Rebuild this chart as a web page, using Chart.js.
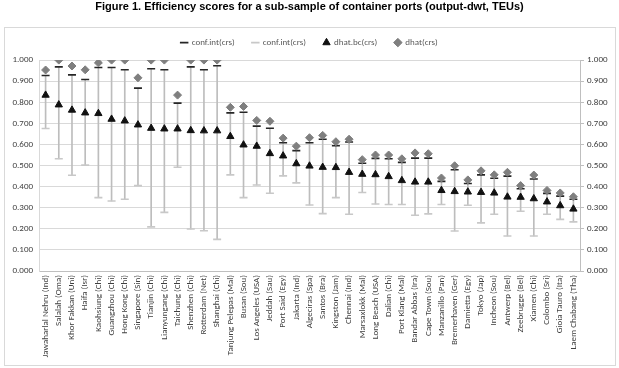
<!DOCTYPE html>
<html>
<head>
<meta charset="utf-8">
<script src="https://cdn.jsdelivr.net/npm/chart.js@4/dist/chart.umd.min.js"></script>
<style>
  html, body { margin: 0; padding: 0; background: #fff; }
  #wrap { width: 619px; height: 368px; }
</style>
</head>
<body>
<div id="wrap"><canvas id="grafico" width="619" height="368"></canvas></div>
<script>
var puertos = ['Jawaharlal Nehru (Ind)', 'Salalah (Oma)', 'Khor Fakkan (Uni)', 'Haifa (Isr)', 'Kaohsiung (Chi)',
    'Guangzhou (Chi)', 'Hong Kong (Chi)', 'Singapore (Sin)', 'Tianjin (Chi)', 'Lianyungang (Chi)', 'Taichung (Chi)',
    'Shenzhen (Chi)', 'Rotterdam (Net)', 'Shanghai (Chi)', 'Tanjung Pelepas (Mal)', 'Busan (Sou)', 'Los Angeles (USA)',
    'Jeddah (Sau)', 'Port Said (Egy)', 'Jakarta (Ind)', 'Algeciras (Spa)', 'Santos (Bra)', 'Kingston (Jam)',
    'Chennai (Ind)', 'Marsaxlokk (Mal)', 'Long Beach (USA)', 'Dalian (Chi)', 'Port Klang (Mal)', 'Bandar Abbas (Ira)',
    'Cape Town (Sou)', 'Manzanillo (Pan)', 'Bremerhaven (Ger)', 'Damietta (Egy)', 'Tokyo (Jap)', 'Incheon (Sou)',
    'Antwerp (Bel)', 'Zeebrugge (Bel)', 'Xiamen (Chi)', 'Colombo (Sri)', 'Gioia Tauro (Ita)', 'Laem Chabang (Tha)'];

var dhat = [0.953, 1.000, 0.972, 0.954, 0.987, 1.000, 1.000, 0.916, 1.000, 1.000, 0.834, 1.000, 1.000, 1.000,
    0.776, 0.780, 0.714, 0.710, 0.630, 0.592, 0.632, 0.643, 0.613, 0.625, 0.528, 0.550, 0.550, 0.532, 0.560,
    0.556, 0.441, 0.499, 0.432, 0.475, 0.456, 0.468, 0.405, 0.455, 0.382, 0.370, 0.352];

var dhatBc = [0.834, 0.788, 0.763, 0.750, 0.747, 0.720, 0.712, 0.693, 0.677, 0.674, 0.674, 0.666, 0.665, 0.665,
    0.638, 0.598, 0.592, 0.557, 0.546, 0.509, 0.498, 0.492, 0.491, 0.468, 0.459, 0.457, 0.448, 0.429, 0.422,
    0.422, 0.382, 0.377, 0.375, 0.373, 0.370, 0.351, 0.350, 0.343, 0.328, 0.310, 0.294];

var ciSuperior = [0.927, 0.968, 0.930, 0.908, 0.965, 0.965, 0.954, 0.867, 0.959, 0.954, 0.796, 0.968, 0.954, 0.973,
    0.750, 0.753, 0.687, 0.677, 0.608, 0.571, 0.608, 0.625, 0.594, 0.612, 0.511, 0.534, 0.532, 0.515, 0.535,
    0.535, 0.425, 0.480, 0.415, 0.456, 0.440, 0.450, 0.390, 0.436, 0.368, 0.355, 0.340];

var ciInferior = [0.676, 0.532, 0.454, 0.502, 0.348, 0.332, 0.340, 0.405, 0.209, 0.278, 0.492, 0.199, 0.191, 0.150,
    0.456, 0.348, 0.408, 0.369, 0.451, 0.418, 0.313, 0.272, 0.348, 0.269, 0.372, 0.318, 0.315, 0.315, 0.264,
    0.271, 0.315, 0.190, 0.312, 0.228, 0.269, 0.166, 0.283, 0.166, 0.269, 0.245, 0.233];

var ticksY = [0, 0.1, 0.2, 0.3, 0.4, 0.5, 0.6, 0.7, 0.8, 0.9, 1.0];

// barras verticales entre los limites del intervalo
var rangos = puertos.map(function (p, i) { return [ciInferior[i], ciSuperior[i]]; });

var fuenteEje = 'Calibri, Carlito, "Liberation Sans Narrow", "Liberation Sans", Arial, sans-serif';

// marco gris alrededor del area del grafico (estilo Excel)
var marco = {
    id: 'marco',
    beforeLayout: function (chart) {
        // un poco mas de aire debajo de la leyenda
        var lg = chart.legend;
        if (lg && !lg._extra) {
            var fitOriginal = lg.fit;
            lg.fit = function () { fitOriginal.call(this); this.height += 3; };
            lg._extra = true;
        }
    },
    beforeDraw: function (chart) {
        var ctx = chart.ctx;
        ctx.save();
        ctx.fillStyle = '#ffffff';
        ctx.fillRect(0, 0, chart.width, chart.height);
        ctx.strokeStyle = '#d9d9d9';
        ctx.lineWidth = 1;
        ctx.strokeRect(4.5, 27.5, 611, 338);
        ctx.restore();
    }
};

var ctx = document.getElementById('grafico').getContext('2d');
var grafico = new Chart(ctx, {
    data: {
        labels: puertos,
        datasets: [
            {
                type: 'line', label: 'conf.int(crs)', data: ciSuperior, showLine: false,
                pointStyle: 'line', pointRadius: 4, borderColor: '#262626', backgroundColor: '#262626',
                pointBorderWidth: 1.6, order: 3
            },
            {
                type: 'line', label: 'conf.int(crs)', data: ciInferior, showLine: false,
                pointStyle: 'line', pointRadius: 4, borderColor: '#c8c8c8', backgroundColor: '#c8c8c8',
                pointBorderWidth: 1.6, order: 4
            },
            {
                type: 'line', label: 'dhat.bc(crs)', data: dhatBc, showLine: false,
                pointStyle: 'triangle', pointRadius: 4.2, borderColor: '#111111', backgroundColor: '#111111',
                pointBorderWidth: 1, order: 2
            },
            {
                type: 'line', label: 'dhat(crs)', data: dhat, showLine: false,
                pointStyle: 'rectRot', pointRadius: 4, borderColor: '#7f7f7f', backgroundColor: '#7f7f7f',
                pointBorderWidth: 1, order: 1
            },
            {
                type: 'bar', label: 'rango', data: rangos, backgroundColor: '#bdbdbd',
                barThickness: 1, order: 10
            }
        ]
    },
    options: {
        responsive: false,
        animation: false,
        layout: { padding: 0 },
        plugins: {
            tooltip: { enabled: false },
            title: {
                display: true,
                text: 'Figure 1. Efficiency scores for a sub-sample of container ports (output-dwt, TEUs)',
                color: '#000000',
                font: { family: '"Liberation Sans", Arial, sans-serif', size: 11, weight: 'bold' },
                padding: { top: 0, bottom: 7.3 }
            },
            legend: {
                position: 'top',
                labels: {
                    usePointStyle: true,
                    boxWidth: 6,
                    boxHeight: 6,
                    padding: 17.6,
                    color: '#595959',
                    font: { family: fuenteEje, size: 9 },
                    filter: function (item) { return item.text !== 'rango'; },
                    sort: function (a, b) { return a.datasetIndex - b.datasetIndex; }
                }
            }
        },
        scales: {
            x: {
                offset: true,
                grid: { display: false, drawTicks: false },
                border: { display: true, color: '#bfbfbf' },
                ticks: {
                    autoSkip: false, minRotation: 90, maxRotation: 90, padding: 4,
                    color: '#404040', font: { family: fuenteEje, size: 9 }
                },
                afterFit: function (s) { s.height = 97; }
            },
            y: {
                position: 'left',
                min: 0, max: 1,
                afterBuildTicks: function (s) { s.ticks = ticksY.map(function (v) { return { value: v }; }); },
                grid: { color: '#d9d9d9', drawTicks: false },
                border: { display: true, color: '#d9d9d9' },
                ticks: {
                    padding: 6, color: '#404040', font: { family: fuenteEje, size: 9 },
                    callback: function (v) { return Number(v).toFixed(3); }
                },
                afterFit: function (s) { s.width = 39; }
            },
            y2: {
                position: 'right',
                min: 0, max: 1,
                afterBuildTicks: function (s) { s.ticks = ticksY.map(function (v) { return { value: v }; }); },
                grid: { drawOnChartArea: false, drawTicks: true, tickLength: 4, color: '#bfbfbf' },
                border: { display: true, color: '#bfbfbf' },
                ticks: {
                    padding: 3, color: '#404040', font: { family: fuenteEje, size: 9 },
                    callback: function (v) { return Number(v).toFixed(3); }
                },
                afterFit: function (s) { s.width = 39; }
            }
        }
    },
    plugins: [marco]
});
</script>
</body>
</html>
